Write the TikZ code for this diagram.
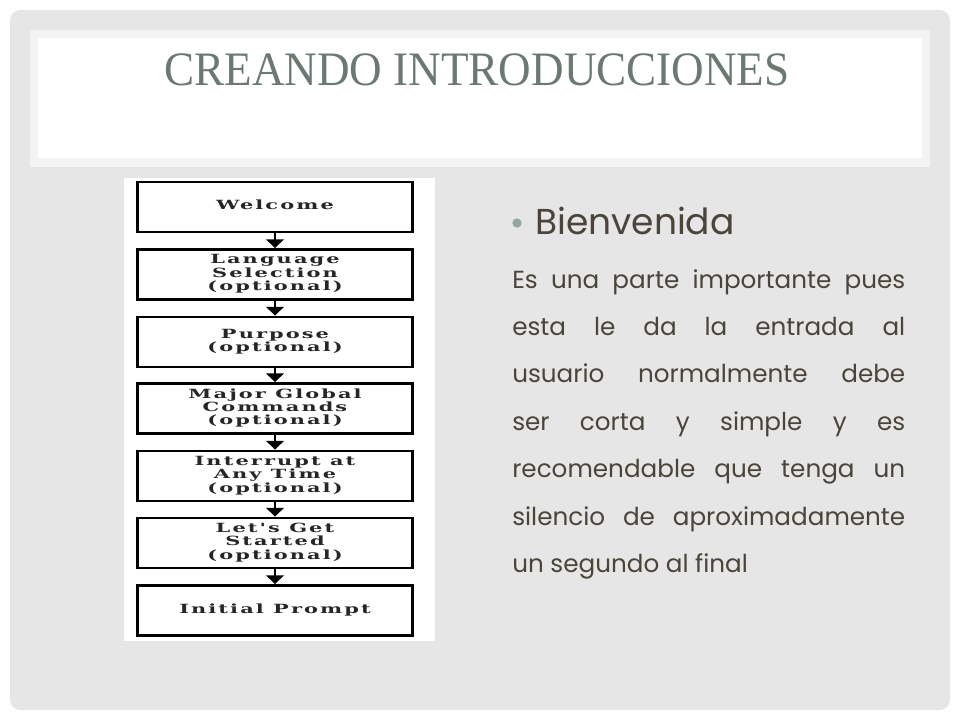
\documentclass[tikz,border=0pt]{standalone}
\usepackage{fontspec}
\usepackage{graphicx}
\usetikzlibrary{positioning,arrows.meta}

\setmainfont{Liberation Serif}
\newfontfamily\titlefont{Liberation Serif}
\newfontfamily\stepfont[LetterSpace=10]{DejaVu Serif}
\newfontfamily\bodyfont{Poppins}

\definecolor{pagegray}{HTML}{E6E6E6}
\definecolor{frame}{HTML}{F3F3F3}
\definecolor{titlegreen}{HTML}{6B7A70}
\definecolor{bodybrown}{HTML}{4A443A}
\definecolor{dotgreen}{HTML}{93A69D}
\definecolor{inkgray}{HTML}{262626}

\newcommand{\steptext}[1]{\scalebox{1.65}[1]{\begin{tabular}{@{}c@{}}#1\end{tabular}}}

\tikzset{
    flowbox/.style={rectangle, draw=black, line width=2.1pt, fill=white,
        minimum width=206pt, minimum height=37.5pt, inner sep=0pt, text=inkgray,
        font=\stepfont\bfseries\fontsize{9.5}{9.3}\selectfont},
    flowarrow/.style={-{Triangle[width=13pt,length=6.5pt]}, line width=2.1pt},
}

\begin{document}
\begin{tikzpicture}[x=0.75pt, y=-0.75pt]
            \useasboundingbox (0,0) rectangle (960,720);
            % \draw[step=10,gray!30,very thin] (0,0) grid (960,720);

            \fill[pagegray, rounded corners=7.5pt] (10,10) rectangle (950,710);
            \fill[frame]  (30,30) rectangle (930,167);
            \fill[white]  (38,38) rectangle (922,158);
            \fill[white]  (124,178) rectangle (435,641);

            \node[anchor=base, text=titlegreen, font=\titlefont\fontsize{36}{40}\selectfont] (title) at (477,86)
                {\scalebox{0.94}[1]{CREANDO INTRODUCCIONES}};

            \node[flowbox] (welcome)   at (275,207)   {\steptext{Welcome}};
            \node[flowbox] (language)  at (275,274.5) {\steptext{Language\\Selection\\(optional)}};
            \node[flowbox] (purpose)   at (275,342)   {\steptext{Purpose\\(optional)}};
            \node[flowbox] (global)    at (275,408.5) {\steptext{Major Global\\Commands\\(optional)}};
            \node[flowbox] (interrupt) at (275,476)   {\steptext{Interrupt at\\Any Time\\(optional)}};
            \node[flowbox] (started)   at (275,543)   {\steptext{Let's Get\\Started\\(optional)}};
            \node[flowbox] (prompt)    at (275,610.5) {\steptext{Initial Prompt}};

            \draw[flowarrow] (welcome)   -- (language);
            \draw[flowarrow] (language)  -- (purpose);
            \draw[flowarrow] (purpose)   -- (global);
            \draw[flowarrow] (global)    -- (interrupt);
            \draw[flowarrow] (interrupt) -- (started);
            \draw[flowarrow] (started)   -- (prompt);

            \node[circle, fill=dotgreen, inner sep=0pt, minimum size=7pt] (dot) at (517,223) {};
            \node[anchor=base west, inner sep=0pt, text=bodybrown, font=\bodyfont\fontsize{27}{30}\selectfont] (head) at (535,235) {Bienvenida};

            \node[anchor=base west, inner sep=0pt, text=bodybrown, font=\bodyfont\fontsize{18.5}{35.6}\selectfont] (body) at (512,288)
                {\parbox[t]{294.75pt}{%
                    \makebox[\linewidth][s]{Es una parte importante pues}\\
                    \makebox[\linewidth][s]{esta le da la entrada al}\\
                    \makebox[\linewidth][s]{usuario normalmente debe}\\
                    \makebox[\linewidth][s]{ser corta y simple y es}\\
                    \makebox[\linewidth][s]{recomendable que tenga un}\\
                    \makebox[\linewidth][s]{silencio de aproximadamente}\\
                    un segundo al final}};
\end{tikzpicture}
\end{document}
